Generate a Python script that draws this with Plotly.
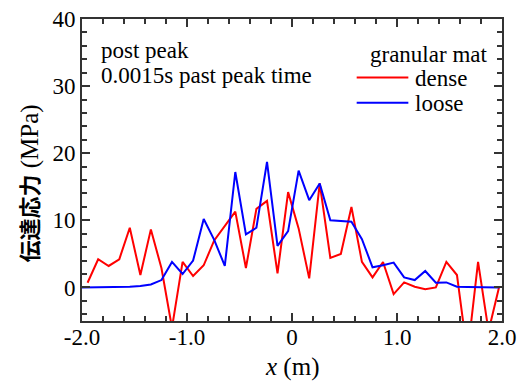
import plotly.graph_objects as go

# ---- data ----
x_dense = [-1.947, -1.846, -1.746, -1.645, -1.545, -1.444, -1.344, -1.243, -1.143, -1.042,
           -0.942, -0.841, -0.741, -0.640, -0.540, -0.439, -0.339, -0.238, -0.138, -0.037,
           0.063, 0.164, 0.264, 0.365, 0.465, 0.566, 0.666, 0.767, 0.867, 0.968,
           1.068, 1.169, 1.269, 1.370, 1.470, 1.571, 1.671, 1.772, 1.872, 1.973]
dense = [0.7, 4.2, 3.2, 4.2, 8.9, 1.85, 8.65, 2.85, -6.0, 3.8,
         1.7, 3.3, 7.0, 9.2, 11.3, 2.9, 11.7, 12.9, 2.1, 14.2,
         8.8, 1.35, 15.5, 4.4, 5.0, 12.0, 3.8, 1.5, 3.8, -1.0,
         0.75, 0.1, -0.25, 0.0, 3.8, 1.85, -10.0, 3.8, -6.5, 0.1]

x_loose = [-2.0] + x_dense
loose = [0.0, 0.0, 0.0, 0.02, 0.05, 0.1, 0.2, 0.45, 1.1, 3.8, 2.0,
         4.0, 10.2, 7.1, 3.2, 17.2, 7.9, 8.9, 18.7, 6.2, 8.4,
         17.4, 13.0, 15.5, 10.0, 9.95, 9.8, 7.2, 3.0, 3.3, 3.7,
         1.5, 1.1, 2.45, 0.7, 0.75, 0.1, 0.05, 0.0, 0.0, 0.0]

x_tickvals = [-2.0, -1.0, 0.0, 1.0, 2.0]
x_ticktext = ["-2.0", "-1.0", "0", "1.0", "2.0"]
y_tickvals = [0, 10, 20, 30, 40]
y_ticktext = ["0", "10", "20", "30", "40"]

series_names = ["dense", "loose"]
series_colors = ["#ff0000", "#0000ff"]

SERIF = "Liberation Serif, Noto Sans CJK JP, serif"
TXT = dict(family=SERIF, size=23, color="black")

fig = go.Figure()
fig.add_trace(go.Scatter(x=x_dense, y=dense, mode="lines", name=series_names[0],
                         line=dict(color=series_colors[0], width=2), showlegend=False))
fig.add_trace(go.Scatter(x=x_loose, y=loose, mode="lines", name=series_names[1],
                         line=dict(color=series_colors[1], width=2), showlegend=False))

axis_common = dict(
    showgrid=False, zeroline=False, showline=True, linecolor="#333", linewidth=2,
    mirror="allticks", ticks="inside", ticklen=8, tickwidth=1.5, tickcolor="#333",
    tickfont=dict(family=SERIF, size=23, color="black"), automargin=False,
    ticklabeloverflow="allow",
)

fig.update_xaxes(range=[-2.0, 2.0], tickvals=x_tickvals, ticktext=x_ticktext,
                 ticklabelstandoff=-6,
                 minor=dict(dtick=0.2, ticks="inside", ticklen=5, tickwidth=1.5, tickcolor="#333"),
                 **axis_common)
fig.update_yaxes(range=[-5, 40], tickvals=y_tickvals, ticktext=y_ticktext,
                 minor=dict(dtick=2, ticks="inside", ticklen=5, tickwidth=1.5, tickcolor="#333"),
                 **axis_common)

# axis titles
fig.add_annotation(xref="paper", yref="paper", x=0.5, y=-0.152, xanchor="center", yanchor="middle",
                   text="<i>x</i> (m)", showarrow=False, font=dict(family=SERIF, size=25, color="black"))
fig.add_annotation(xref="paper", yref="paper", x=-0.124, y=0.455, xanchor="center", yanchor="middle",
                   text='<b>伝達応力</b><span style="font-size:25px"> (MPa)</span>', textangle=-90,
                   showarrow=False, font=dict(family=SERIF, size=22, color="black"))

# text annotations
fig.add_annotation(xref="paper", yref="paper", x=0.040, y=0.896, xanchor="left", yanchor="middle",
                   text="post peak", showarrow=False, font=TXT)
fig.add_annotation(xref="paper", yref="paper", x=0.040, y=0.813, xanchor="left", yanchor="middle",
                   text="0.0015s past peak time", showarrow=False, font=TXT)

# legend (title + entries)
fig.add_annotation(xref="paper", yref="paper", x=0.969, y=0.884, xanchor="right", yanchor="middle",
                   text="granular mat", showarrow=False, font=TXT)
legend_line_y = [0.806, 0.723]
legend_text_y = [0.804, 0.721]
for name, color, ly, ty in zip(series_names, series_colors, legend_line_y, legend_text_y):
    fig.add_shape(type="line", xref="paper", yref="paper", x0=0.654, x1=0.777, y0=ly, y1=ly,
                  line=dict(color=color, width=2))
    fig.add_annotation(xref="paper", yref="paper", x=0.788, y=ty, xanchor="left", yanchor="middle",
                       text=name, showarrow=False, font=TXT)

# page body has an 8px default margin, so the figure is sized to fit the window
fig.update_layout(
    width=518, height=375,
    margin=dict(l=74, r=24, t=11, b=62),
    paper_bgcolor="white", plot_bgcolor="white",
    showlegend=False,
)

fig.write_html("out.html")
